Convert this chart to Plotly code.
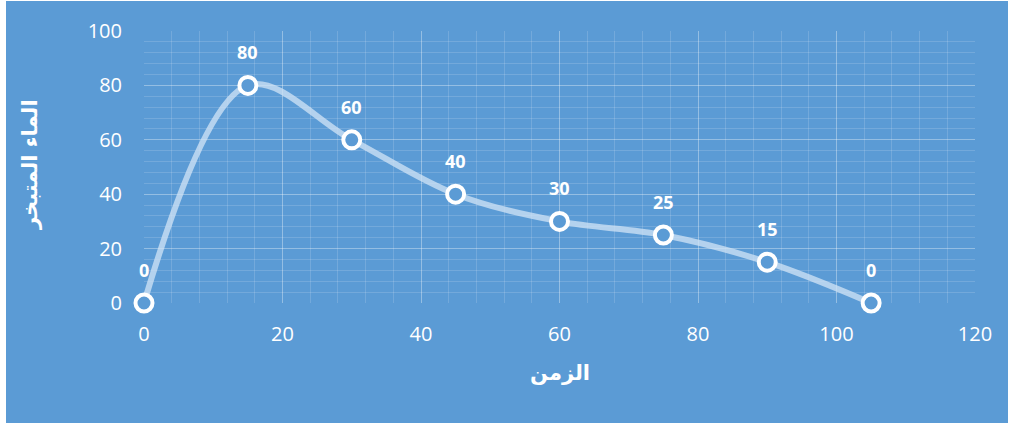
import plotly.graph_objects as go

# Evaporated water over time
time_vals = [0, 15, 30, 45, 60, 75, 90, 105]
water_vals = [0, 80, 60, 40, 30, 25, 15, 0]

x_title = "الزمن"
y_title = "الماء المتبخر"

BG = "#5B9BD5"
WHITE = "#FFFFFF"
FONT = "Open Sans, DejaVu Sans, sans-serif"

fig = go.Figure()

# smoothed curve
fig.add_trace(go.Scatter(
    x=time_vals, y=water_vals,
    mode="lines",
    line=dict(shape="spline", smoothing=1.0, color="rgba(210,228,246,0.75)", width=6),
    hoverinfo="skip",
    cliponaxis=False,
))

# point markers
fig.add_trace(go.Scatter(
    x=time_vals, y=water_vals,
    mode="markers",
    marker=dict(size=17, color=BG, line=dict(color=WHITE, width=4)),
    cliponaxis=False,
))

# value labels above points
for xv, yv in zip(time_vals, water_vals):
    fig.add_annotation(
        x=xv, y=yv, text=f"<b>{yv}</b>", showarrow=False,
        yshift=33, font=dict(family=FONT, size=18, color=WHITE),
    )

# axis titles
fig.add_annotation(
    xref="paper", yref="paper", x=(560 - 144) / 831, y=(303 - 373) / 272,
    xanchor="center", yanchor="middle",
    text=f"<b>{x_title}</b>", showarrow=False,
    font=dict(family="DejaVu Sans, sans-serif", size=21, color=WHITE),
)
fig.add_annotation(
    xref="paper", yref="paper", x=(30 - 144) / 831, y=(303 - 165) / 272,
    xanchor="center", yanchor="middle",
    text=f"<b>{y_title}</b>", showarrow=False, textangle=-90,
    font=dict(family="DejaVu Sans, sans-serif", size=21, color=WHITE),
)

# blue chart panel with white outer margin
fig.add_shape(
    type="rect", xref="paper", yref="paper", layer="below",
    x0=(6 - 144) / 831, x1=(1008 - 144) / 831,
    y0=(303 - 423) / 272, y1=(303 - 1) / 272,
    fillcolor=BG, line=dict(width=0),
)

axis_common = dict(
    showline=False, zeroline=False, ticks="",
    gridcolor="rgba(255,255,255,0.35)", gridwidth=1,
    tickfont=dict(family=FONT, size=20, color=WHITE),
    minor=dict(showgrid=True, gridcolor="rgba(255,255,255,0.15)", gridwidth=1),
)

fig.update_xaxes(range=[0, 120], dtick=20, minor_dtick=4, ticklabelstandoff=17, **axis_common)
fig.update_yaxes(range=[0, 100], dtick=20, minor_dtick=4, ticklabelstandoff=21, **axis_common)

fig.update_layout(
    width=1012, height=425,
    margin=dict(l=144, r=37, t=31, b=122),
    paper_bgcolor=WHITE, plot_bgcolor=BG,
    showlegend=False,
)

fig.write_html("out.html")
